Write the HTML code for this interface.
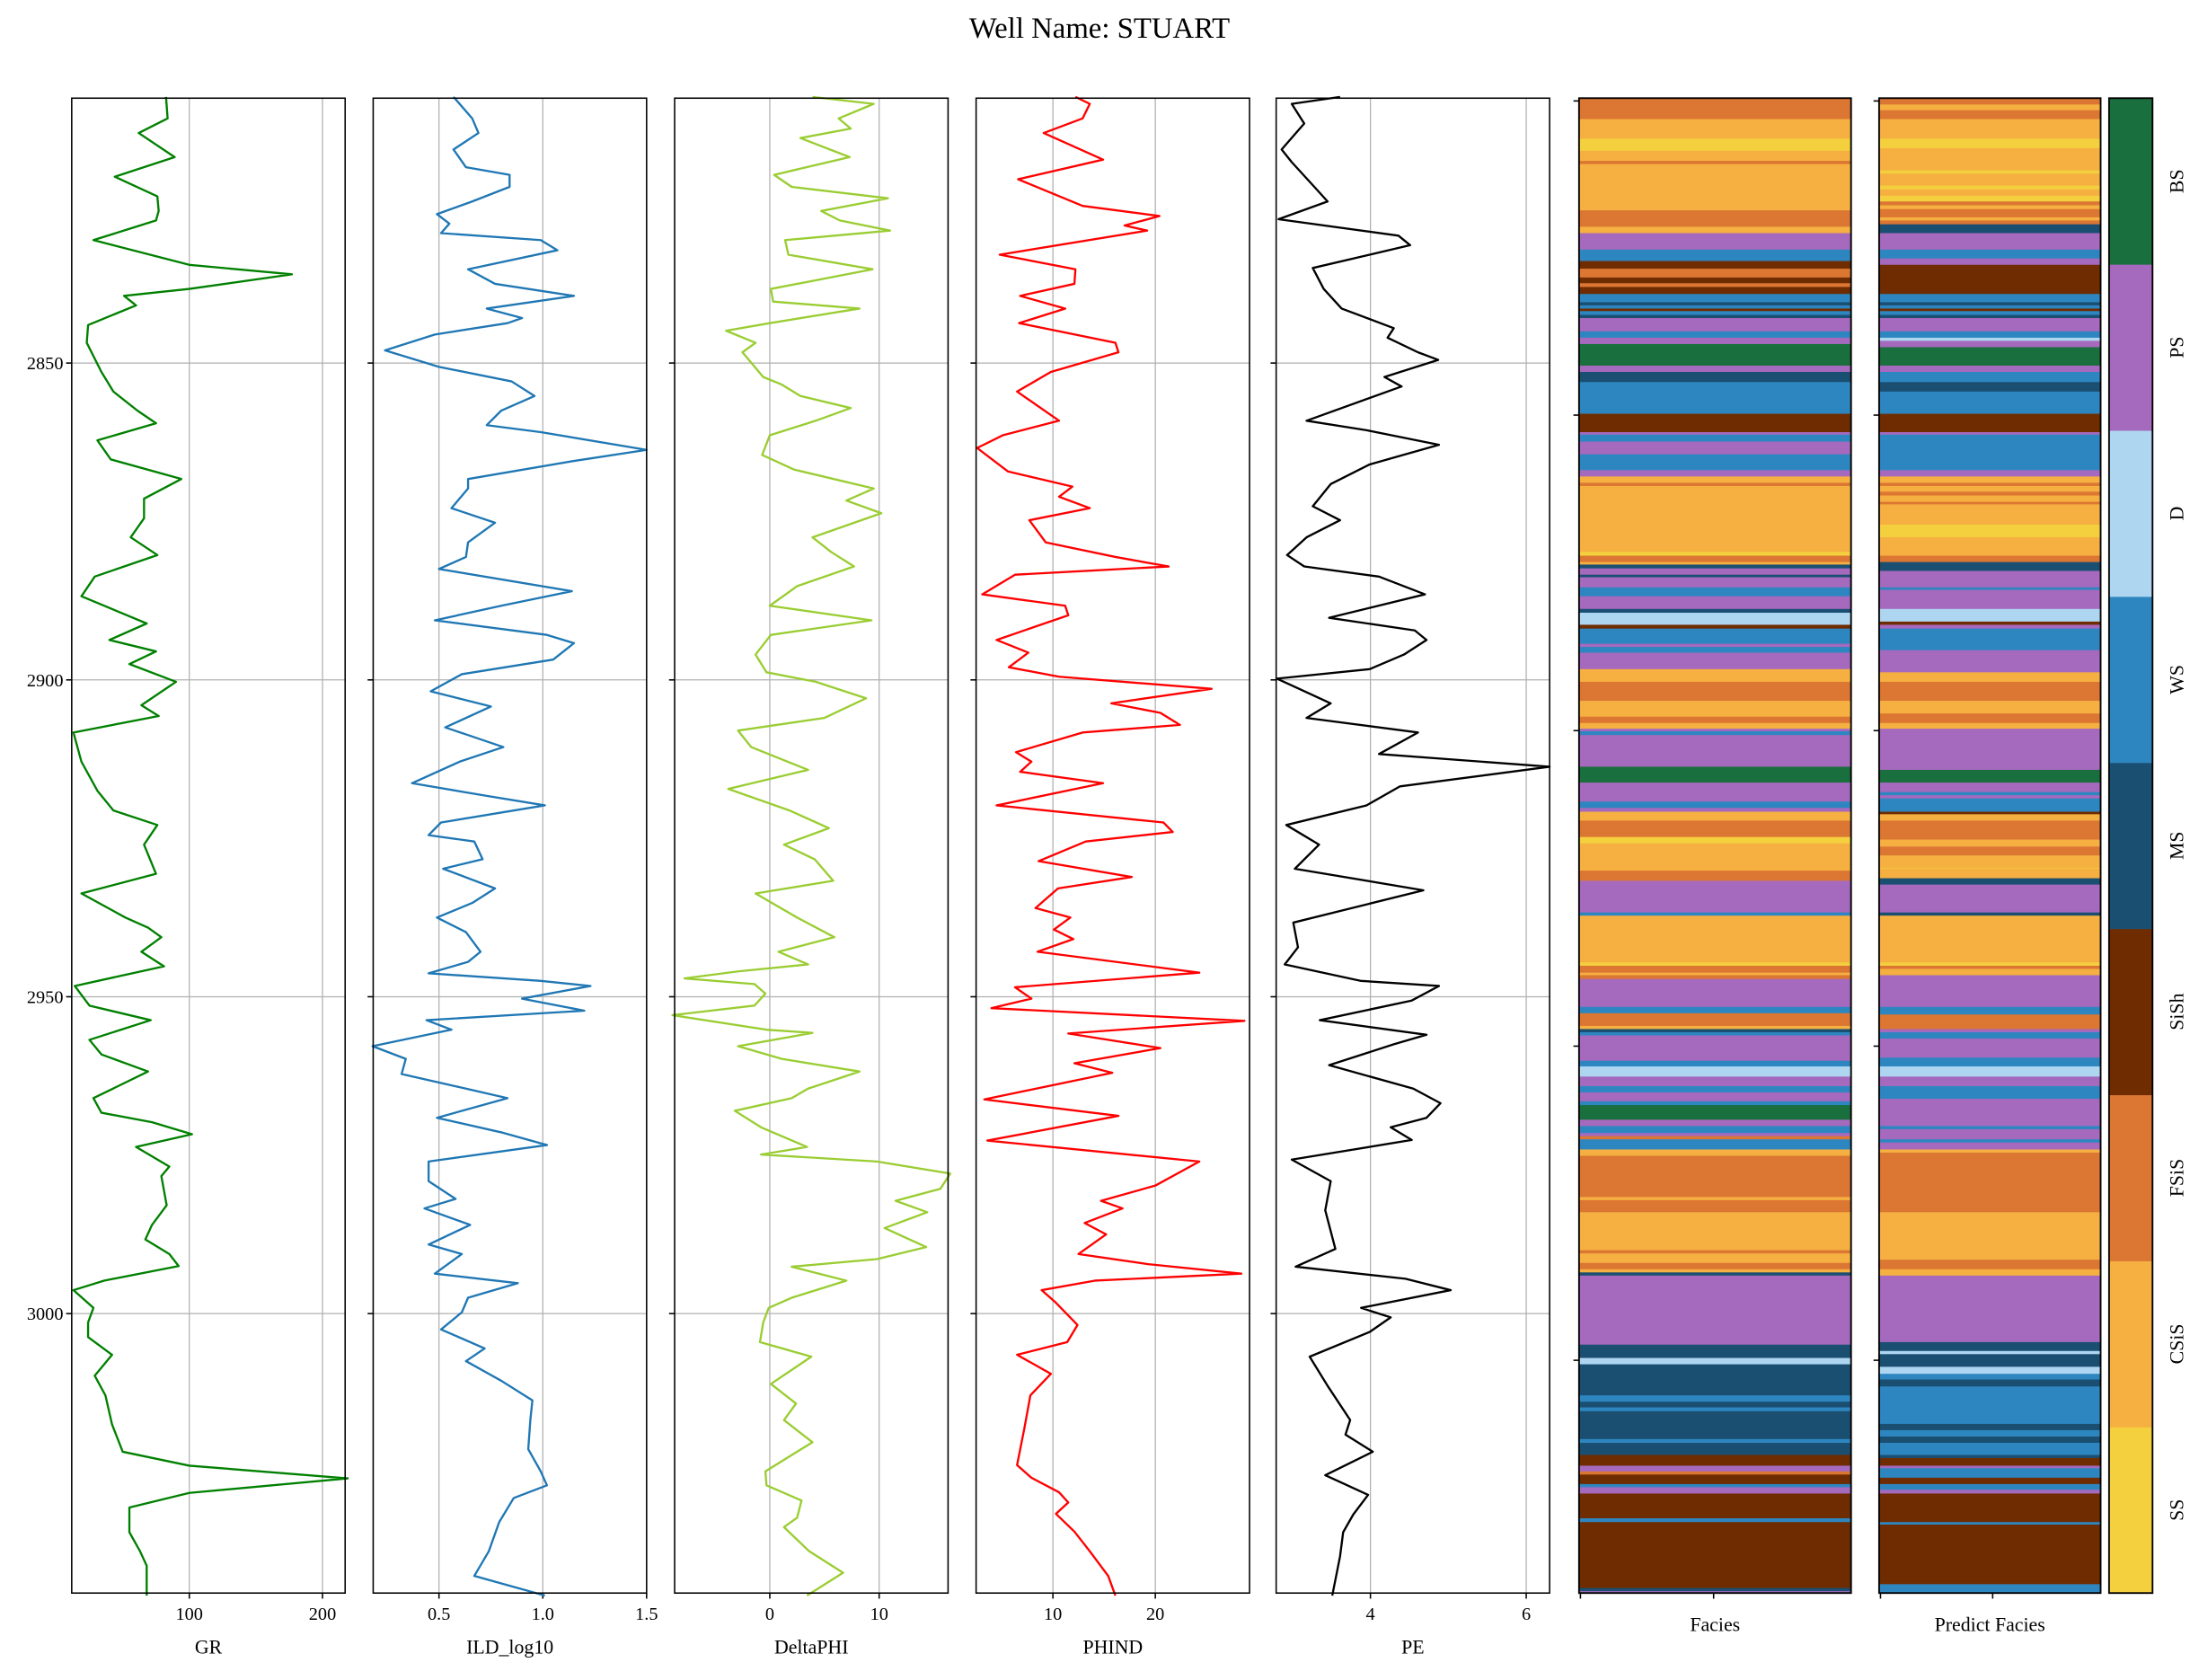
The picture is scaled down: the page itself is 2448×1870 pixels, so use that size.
<!DOCTYPE html>
<html><head><meta charset="utf-8">
<style>
html,body{margin:0;padding:0;background:#fff;}
svg{display:block;}
text{font-family:"Liberation Serif","DejaVu Serif",serif;fill:#000;}
</style></head>
<body>
<svg id="chart" width="2448" height="1870" viewBox="0 0 1568 1198" xmlns="http://www.w3.org/2000/svg">
<text x="784" y="27" font-size="21" text-anchor="middle">Well Name: STUART</text>
</svg>
<script>
// ---------- data ----------
const grDepth = [2808,2811.4,2813.7,2817.5,2820.6,2823.7,2826,2827.5,2830.6,2834.5,2836,2838.3,2839.4,2840.9,2844,2846.8,2851.4,2854.5,2857.5,2859.5,2862.2,2865.2,2868.3,2871.4,2874.5,2877.5,2880.3,2883.7,2886.8,2891.1,2893.7,2895.5,2897.5,2900.3,2904,2905.7,2908.3,2912.9,2917.5,2920.6,2922.9,2926,2930.6,2933.7,2937.5,2939.1,2940.6,2942.9,2945.2,2948.3,2951.4,2953.7,2956.8,2959.1,2961.8,2966,2968.3,2969.8,2971.7,2973.7,2976.8,2978.3,2982.9,2986,2988.3,2990.6,2992.5,2994.8,2996.3,2999.1,3001.4,3003.7,3006.5,3009.8,3012.9,3017.5,3021.8,3024,3026,3028.3,3030.6,3034.5,3037.5,3039.8,3044.5];
const grValues = [82.5,83.7,62,89,44,76,77,75,28,100,177,100,51,60,24,23,34,43,61,75,31,41,94,66,66,56,76,29,19,68,40,75,55,90,64,77,13,19,31,43,76,66,75,19,52,69,79,64,81,14,25,71,25,34,69,28,34,72,102,60,85,79,83,72,67,85,92,36,13,28,24,24,42,29,37,42,50,100,219,100,55,55,63,68,68];

const ildDepth = [2808,2811.4,2813.7,2816.3,2819.1,2820.3,2822.2,2824.5,2826.5,2828,2829.5,2830.6,2832.2,2835.2,2837.5,2839.4,2841.4,2842.9,2843.7,2845.5,2848,2850.6,2852.9,2855.2,2857.5,2859.8,2860.9,2863.7,2865.5,2868.3,2869.8,2872.9,2875.2,2878.3,2880.6,2882.5,2886,2888.3,2890.6,2892.9,2894.2,2896.8,2899.1,2901.8,2904.2,2907.5,2908.6,2910.6,2912.9,2916.3,2918.3,2919.8,2922.5,2924.5,2925.5,2928.3,2929.8,2932.9,2935.2,2937.5,2939.8,2942.9,2944.5,2946.3,2947.5,2948.3,2950.3,2952.2,2953.7,2955.2,2957.8,2959.8,2962.2,2964.5,2966,2969.1,2971.4,2973.4,2976,2979.1,2981.9,2983.4,2986,2989.1,2990.6,2993.7,2995.2,2997.5,2999.8,3002.5,3005.5,3007.5,3010.6,3013.7,3016.8,3021.4,3024.9,3027.1,3029.1,3032.9,3037.5,3041.4,3044.5];
const ildValues = [0.57,0.66,0.69,0.57,0.63,0.84,0.84,0.66,0.49,0.55,0.51,0.99,1.07,0.64,0.77,1.15,0.73,0.9,0.83,0.48,0.24,0.5,0.85,0.96,0.8,0.73,0.99,1.5,1.14,0.64,0.64,0.56,0.77,0.64,0.63,0.5,1.14,0.8,0.48,1.02,1.15,1.05,0.61,0.46,0.75,0.53,0.63,0.81,0.6,0.37,0.73,1.01,0.51,0.45,0.67,0.71,0.52,0.77,0.66,0.49,0.63,0.7,0.64,0.45,0.99,1.23,0.9,1.2,0.44,0.56,0.18,0.34,0.32,0.63,0.83,0.49,0.8,1.02,0.45,0.45,0.58,0.43,0.65,0.45,0.61,0.48,0.88,0.64,0.61,0.51,0.72,0.63,0.8,0.95,0.94,0.93,0.99,1.02,0.86,0.79,0.74,0.67,1.01];

const dphiDepth = [2808,2809.1,2811.4,2813,2814.5,2817.5,2820.3,2822.2,2824,2826,2827.5,2829.1,2830.6,2832.9,2835.2,2838.3,2840.3,2841.4,2843.7,2844.9,2846.8,2848.3,2852.2,2853.4,2855.2,2857.1,2859.1,2861.4,2864.5,2866.8,2869.8,2871.7,2873.7,2877.5,2879.8,2882.1,2885.2,2888.3,2890.6,2892.9,2896,2898.8,2900.3,2902.9,2906,2908,2910.6,2914.2,2917.2,2920.6,2923.4,2926,2928.3,2931.7,2933.7,2937.5,2940.6,2942.9,2944.9,2946,2947.1,2948,2949.5,2951.4,2952.9,2955.2,2955.7,2957.8,2959.8,2961.8,2964.5,2966,2968,2970.6,2973.7,2974.9,2976,2977.9,2980.3,2982.2,2984,2986.5,2989.5,2991.4,2992.6,2994.8,2997.5,2999.1,3001.4,3004.5,3006.8,3011.1,3014.2,3016.8,3020.3,3024.9,3027.1,3029.5,3032.2,3033.7,3037.5,3040.9,3044.5];
const dphiValues = [3.9,9.5,6.3,7.4,2.8,7.3,0.4,2,10.8,4.7,6.4,11,1.4,1.7,9.4,0.1,0.3,8.2,0,-4,-1.3,-2.5,-0.6,1.1,2.8,7.4,4.2,0,-0.7,2.2,9.5,7,10.2,3.9,5.6,7.7,2.5,0,9.3,0.1,-1.3,-0.3,4.2,8.8,5,-2.9,-1.7,3.5,-3.8,1.8,5.4,1.3,4.1,5.8,-1.3,2.5,5.9,0.8,3.5,-2.9,-7.8,-1.4,-0.4,-1.4,-8.9,-0.3,3.9,-2.9,1.1,8.2,3.5,2,-3.2,-0.8,3.4,-0.8,9.8,16.5,15.6,11.5,14.4,10.5,14.3,9.8,2,7,2,-0.1,-0.6,-0.9,3.8,0.1,2.4,1.3,3.9,-0.4,-0.3,2.9,2.5,1.3,3.6,6.7,3.4];

const phindDepth = [2808,2809.1,2811.4,2813.7,2817.9,2821,2825.2,2826.8,2828.3,2829.1,2832.9,2835.2,2837.5,2839.4,2841.4,2843.7,2846.8,2848.3,2851.4,2854.5,2859.1,2861.4,2863.4,2867.1,2869.5,2871.1,2872.9,2874.8,2878.3,2880.6,2882.1,2883.4,2886.5,2888.3,2889.8,2893.7,2895.7,2898,2899.5,2901.4,2903.7,2905.2,2907.1,2908.3,2911.4,2912.9,2914.5,2916.3,2919.8,2922.5,2924,2925.5,2928.6,2931.1,2932.9,2936,2937.5,2939.4,2940.9,2942.9,2946.2,2948.5,2950.3,2951.8,2953.8,2955.8,2958.1,2960.5,2962,2966.2,2968.8,2972.7,2976,2979.8,2982.2,2983.4,2985.7,2987.5,2990.6,2992.2,2993.7,2994.8,2996.3,2998.3,3001.8,3004.5,3006.5,3009.5,3012.9,3018.2,3023.9,3025.9,3028.2,3029.8,3031.6,3034.4,3037.5,3041.4,3044.5];
const phindValues = [12.2,13.6,12.9,9.1,14.9,6.6,12.9,20.4,17,19.2,4.8,12.2,12.1,6.8,11.2,6.7,16.1,16.4,9.8,6.5,10.6,5.1,2.6,5.6,11.9,10.6,13.6,7.7,9.3,16.1,21.3,6.3,3.1,11.2,11.5,4.5,7.6,5.7,10.6,25.5,15.7,20.5,22.4,12.9,6.4,7.9,6.8,14.9,4.5,20.8,21.7,13.2,8.6,17.7,10.5,8.3,11.7,10.1,12,8.5,24.3,6.3,7.9,4,28.7,11.5,20.5,12.1,15.8,3.3,16.4,3.6,24.3,20,14.7,16.8,13.1,15.2,12.5,19.3,28.4,14.1,8.9,10.3,12.4,11.4,6.5,9.8,7.8,7.2,6.5,7.9,10.6,11.5,10.3,12.1,13.6,15.4,16.1];

const peDepth = [2808,2809.1,2812.2,2816.3,2818.3,2822.2,2824.5,2827.3,2829.9,2831.4,2835,2838.3,2841.4,2844.5,2846,2848.3,2849.5,2852.2,2853.7,2859.1,2860.6,2862.9,2866,2869.1,2872.6,2874.8,2877.5,2880.3,2882.1,2883.7,2886.5,2890.2,2892.2,2893.7,2896,2898.3,2899.8,2903.7,2906,2908.3,2911.7,2913.7,2916.8,2919.8,2922.9,2926,2929.8,2933.2,2938.3,2942.2,2944.9,2947.5,2948.3,2950.6,2953.7,2956,2957.5,2960.8,2964.5,2966.8,2969.1,2970.6,2972.6,2975.7,2979.1,2983.7,2989.8,2992.6,2994.5,2996.3,2999.1,3000.6,3002.9,3006.8,3011.4,3016.8,3019.1,3021.8,3025.5,3028.6,3031.7,3034.5,3038.3,3044.5];
const peValues = [3.61,2.99,3.15,2.86,2.99,3.28,3.45,2.82,4.36,4.51,3.26,3.4,3.63,4.3,4.22,4.61,4.87,4.18,4.4,3.18,3.95,4.88,3.99,3.49,3.26,3.61,3.18,2.93,3.15,4.11,4.7,3.47,4.57,4.72,4.43,3.99,2.8,3.49,3.18,4.61,4.11,6.3,4.38,3.95,2.92,3.34,3.03,4.68,3.01,3.07,2.9,3.88,4.88,4.53,3.35,4.72,4.3,3.47,4.55,4.9,4.72,4.26,4.53,2.99,3.49,3.42,3.55,3.04,4.45,5.03,3.88,4.26,3.99,3.22,3.45,3.74,3.68,4.03,3.42,3.97,3.78,3.65,3.61,3.51];

// facies runs: top depth of each run and facies code (1..9)
const faciesTops = [2808.1,2811.5,2814.6,2816.5,2818.1,2818.6,2825.9,2828.5,2829.5,2832.1,2833.9,2835.1,2836.5,2837.4,2838,2839.1,2840.4,2840.9,2841.4,2841.8,2842.4,2842.9,2845,2846,2847,2850.4,2851.4,2853,2858,2860.9,2861.3,2862.4,2864.4,2866.9,2867.9,2868.9,2869.4,2879.8,2880.4,2881.4,2881.8,2882.4,2883.4,2883.8,2885.4,2886.8,2888.8,2889.4,2891.3,2891.9,2894.3,2894.8,2895.7,2898.3,2900.3,2903.3,2905.8,2906.8,2907.7,2908.1,2908.7,2913.7,2916.2,2919.2,2920.2,2920.8,2922.2,2924.8,2925.8,2930.1,2931.7,2936.7,2937.2,2944.6,2945.1,2946.2,2946.6,2947.2,2951.6,2952.6,2954.6,2955.1,2955.6,2956.1,2960.1,2961,2962.6,2964.1,2965.1,2966.5,2967.1,2969.4,2970.4,2971.5,2972,2972.5,2974.1,2975.1,2981.6,2982.1,2984,2990,2990.5,2992,2993,2993.5,2994,3004.9,3007,3008,3012.9,3013.9,3014.8,3015.4,3019.8,3020.4,3022.3,3024,3024.9,3025.4,3026.9,3027.4,3028.4,3032.3,3032.9,3043.3,3043.8];
const faciesCodes = [3,2,1,2,3,2,3,2,8,6,4,3,4,3,4,6,5,6,4,6,5,8,6,8,9,8,5,6,4,8,6,8,6,8,2,3,2,1,3,2,5,8,5,8,6,8,5,7,4,6,8,6,8,2,3,2,3,2,8,6,8,9,8,6,8,2,3,1,2,3,8,6,2,1,3,2,3,8,6,3,2,5,6,8,6,7,8,6,8,6,9,8,6,8,3,6,2,3,2,3,2,3,2,3,2,5,8,5,7,5,6,5,6,5,6,5,4,8,3,4,6,8,4,6,4,5,8];

const predTops = [2808.1,2809.2,2810.1,2811.5,2814.6,2816.1,2819.6,2820.1,2822,2822.6,2823.6,2824.5,2825.1,2825.7,2827,2827.5,2828.1,2829.5,2832.1,2833.5,2834.5,2839.1,2840.4,2840.9,2841.4,2841.8,2842.4,2842.9,2845,2846,2846.5,2847.5,2850.4,2851.4,2853,2854.5,2858,2860.9,2861.3,2866.9,2867.9,2868.9,2869.4,2870.3,2870.9,2871.9,2872.3,2875.5,2877.5,2880.4,2881.4,2882.8,2885.4,2885.8,2888.8,2890.8,2891.3,2891.9,2895.3,2898.8,2900.3,2903.3,2905.3,2906.8,2907.7,2914.2,2916.2,2917.7,2918.2,2918.7,2920.8,2921.2,2922.2,2925.2,2926.3,2927.7,2929.7,2929.8,2931.3,2932.3,2936.7,2937.2,2944.6,2945.1,2945.6,2946.6,2951.6,2952.8,2955.1,2955.6,2956.6,2959.6,2961,2962.6,2964.1,2966.1,2970.4,2970.9,2972.5,2973,2974.1,2974.6,2984,2991.5,2993,2994,3004.5,3005.9,3006.4,3008.4,3009.5,3010.4,3011.5,3017.4,3018.4,3019.4,3020.4,3022.3,3022.8,3024,3024.4,3025.9,3026.9,3027.8,3028.4,3032.9,3033.3,3042.7];
const predCodes = [3,2,3,2,1,2,1,2,1,2,1,3,2,3,2,3,5,8,6,8,4,6,5,6,4,6,5,8,6,7,8,9,8,6,5,6,4,8,6,8,2,3,2,3,2,3,2,1,2,3,5,8,6,8,7,4,8,6,8,2,3,2,3,2,8,9,8,6,8,6,4,2,3,2,3,2,1,2,5,8,5,2,1,3,2,8,6,3,8,6,8,6,7,8,6,8,6,8,6,8,2,3,2,3,2,8,5,7,5,7,6,5,6,5,6,5,6,5,4,8,6,4,6,8,4,6,4,6];

const faciesNames = ["SS","CSiS","FSiS","SiSh","MS","WS","D","PS","BS"];
const faciesColors = ["#F4D03F","#F5B041","#DC7633","#6E2C00","#1B4F72","#2E86C1","#AED6F1","#A569BD","#196F3D"];

const depthTicks = [2850,2900,2950,3000];
const grTicks = [100,200];
const ildTicks = [0.5,1.0,1.5];
const ildTickLabels = ["0.5","1.0","1.5"];
const dphiTicks = [0,10];
const phindTicks = [10,20];
const peTicks = [4,6];

// ---------- layout ----------
const NS = "http://www.w3.org/2000/svg";
const svg = document.getElementById("chart");
const TOP = 70, BOT = 1136, DMIN = 2808.2, DMAX = 3044.1;
function yScale(d){ return TOP + (d - DMIN) / (DMAX - DMIN) * (BOT - TOP); }
function xScaleFactory(x0, x1, v0, v1){ return v => x0 + (v - v0) / (v1 - v0) * (x1 - x0); }
function mk(tag, attrs){ const e = document.createElementNS(NS, tag); for (const k in attrs) e.setAttribute(k, attrs[k]); svg.appendChild(e); return e; }

const panels = [
  {key:"gr", label:"GR", x0:51, x1:246, v0:11.7, v1:217, depth:grDepth, vals:grValues, color:"#008000", ticks:grTicks, tl:grTicks.map(String), depthLabels:true},
  {key:"ild", label:"ILD_log10", x0:266, x1:461, v0:0.183, v1:1.5, depth:ildDepth, vals:ildValues, color:"#1f77b4", ticks:ildTicks, tl:ildTickLabels},
  {key:"deltaphi", label:"DeltaPHI", x0:481, x1:676, v0:-8.7, v1:16.3, depth:dphiDepth, vals:dphiValues, color:"#9ACD32", ticks:dphiTicks, tl:dphiTicks.map(String)},
  {key:"phind", label:"PHIND", x0:696, x1:891, v0:2.5, v1:29.2, depth:phindDepth, vals:phindValues, color:"#FF0000", ticks:phindTicks, tl:phindTicks.map(String)},
  {key:"pe", label:"PE", x0:910, x1:1105, v0:2.79, v1:6.3, depth:peDepth, vals:peValues, color:"#000000", ticks:peTicks, tl:peTicks.map(String)}
];

panels.forEach(p => {
  const xs = xScaleFactory(p.x0, p.x1, p.v0, p.v1);
  // grid
  depthTicks.forEach(d => {
    const y = yScale(d);
    const g = mk("line", {x1:p.x0, x2:p.x1, y1:y, y2:y, stroke:"#b0b0b0", "stroke-width":0.8});
    
    
    const t = mk("line", {x1:p.x0-4, x2:p.x0, y1:y, y2:y, stroke:"#000", "stroke-width":1});
    
    
    if (p.depthLabels) {
      const tx = mk("text", {x:p.x0-6, y:y+4.5, "font-size":13, "text-anchor":"end"});
      tx.textContent = String(d);
      
      
    }
  });
  p.ticks.forEach((v, i) => {
    const x = xs(v);
    const g = mk("line", {x1:x, x2:x, y1:TOP, y2:BOT, stroke:"#b0b0b0", "stroke-width":0.8});
    
    
    const t = mk("line", {x1:x, x2:x, y1:BOT, y2:BOT+4, stroke:"#000", "stroke-width":1});
    
    
    const tx = mk("text", {x:x, y:BOT+19, "font-size":13, "text-anchor":"middle"});
    tx.textContent = p.tl[i];
    
    
  });
  // curve
  const pts = p.depth.map((d, i) => xs(p.vals[i]).toFixed(2) + "," + yScale(d).toFixed(2)).join(" ");
  const pl = mk("polyline", {points:pts, fill:"none", stroke:p.color, "stroke-width":1.5, "stroke-linejoin":"round"});
  
  
  // frame
  const fr = mk("rect", {x:p.x0, y:TOP, width:p.x1-p.x0, height:BOT-TOP, fill:"none", stroke:"#000", "stroke-width":1});
  
  
  const lb = mk("text", {x:(p.x0+p.x1)/2, y:BOT+43, "font-size":14, "text-anchor":"middle"});
  lb.textContent = p.label;
  
  
});

// facies tracks
function drawFacies(key, label, x0, x1, tops, codes, xt){
  tops.forEach((t, i) => {
    const bot = i + 1 < tops.length ? tops[i+1] : DMAX;
    const y0 = Math.max(TOP, yScale(t)), y1 = Math.min(BOT, yScale(bot));
    const r = mk("rect", {x:x0, y:y0, width:x1-x0, height:Math.max(0.1, y1-y0+0.3), fill:faciesColors[codes[i]-1]});
    
    
  });
  const fr = mk("rect", {x:x0, y:TOP, width:x1-x0, height:BOT-TOP, fill:"none", stroke:"#000", "stroke-width":1.2});
  
  
  [72,296,521,746,970].forEach((y, i) => {
    const t = mk("line", {x1:x0-4, x2:x0, y1:y, y2:y, stroke:"#000", "stroke-width":1});
    
    
  });
  xt.forEach((x, i) => {
    const t = mk("line", {x1:x, x2:x, y1:BOT, y2:BOT+4, stroke:"#000", "stroke-width":1});
    
    
  });
  const lb = mk("text", {x:(x0+x1)/2, y:BOT+27, "font-size":14, "text-anchor":"middle"});
  lb.textContent = label;
  
  
}
drawFacies("facies", "Facies", 1126, 1320, faciesTops, faciesCodes, [1127,1222]);
drawFacies("predict-facies", "Predict Facies", 1340, 1498, predTops, predCodes, [1341,1421]);

// colorbar
const cbX0 = 1504, cbX1 = 1535, segH = (BOT - TOP) / faciesNames.length;
faciesNames.forEach((n, i) => {
  const y0 = BOT - (i + 1) * segH;
  const r = mk("rect", {x:cbX0, y:y0, width:cbX1-cbX0, height:segH+0.3, fill:faciesColors[i]});
  
  
  const cx = 1557, cy = y0 + segH/2;
  const t = mk("text", {x:cx, y:cy, "font-size":14, "text-anchor":"middle", transform:"rotate(-90 " + cx + " " + cy + ")"});
  t.textContent = n;
  
  
});
const cbf = mk("rect", {x:cbX0, y:TOP, width:cbX1-cbX0, height:BOT-TOP, fill:"none", stroke:"#000", "stroke-width":1.2});


</script>
</body></html>
